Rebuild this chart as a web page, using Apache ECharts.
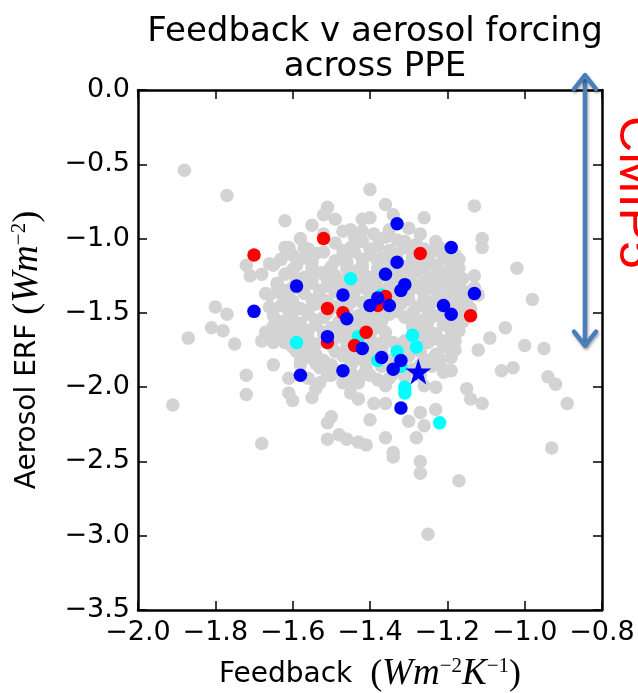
<!DOCTYPE html>
<html>
<head>
<meta charset="utf-8">
<script src="https://cdn.jsdelivr.net/npm/echarts@6/dist/echarts.min.js"></script>
<style>html,body{margin:0;padding:0;background:#fff}#c{width:638px;height:693px}</style>
</head>
<body>
<div id="c"></div>
<script>
// ---- data ----
const xTicks = [-2.0, -0.8, 0.2];   // min, max, interval (Feedback)
const yTicks = [-3.5, 0.0, 0.5];    // min, max, interval (Aerosol ERF)

const ppeGray = [
[-1.88,-0.54],[-1.77,-0.71],[-1.40,-0.67],[-1.36,-0.77],[-1.13,-0.78],[-1.51,-0.79],[-1.52,-0.84],[-1.49,-0.87],
[-1.62,-0.88],[-1.42,-0.87],[-1.40,-0.86],[-1.34,-0.84],[-1.26,-0.86],[-1.55,-0.91],[-1.30,-0.93],[-1.47,-0.95],
[-1.45,-0.94],[-1.42,-0.95],[-1.39,-0.97],[-1.35,-0.94],[-1.11,-1.00],[-1.11,-1.06],[-1.58,-1.00],[-1.57,-1.06],
[-1.62,-1.06],[-1.61,-1.06],[-1.54,-1.10],[-1.57,-1.13],[-1.33,-1.01],[-1.31,-1.02],[-1.23,-1.02],[-1.28,-1.04],
[-1.18,-1.11],[-1.17,-1.20],[-1.02,-1.20],[-1.72,-1.18],[-1.65,-1.18],[-1.71,-1.25],[-1.68,-1.24],[-1.13,-1.25],
[-0.98,-1.41],[-1.80,-1.46],[-1.77,-1.51],[-1.81,-1.60],[-1.78,-1.62],[-1.87,-1.67],[-1.75,-1.71],[-1.68,-1.69],
[-1.65,-1.70],[-1.65,-1.85],[-1.72,-1.92],[-1.72,-2.05],[-1.91,-2.12],[-1.61,-1.94],[-1.61,-2.04],[-1.60,-2.09],
[-1.55,-2.07],[-1.54,-2.01],[-1.51,-2.24],[-1.50,-2.20],[-1.40,-2.22],[-1.39,-2.11],[-1.36,-2.11],[-1.43,-2.08],
[-1.45,-2.04],[-1.27,-2.17],[-1.23,-2.15],[-1.30,-2.23],[-1.26,-2.26],[-1.28,-2.34],[-1.36,-2.34],[-1.51,-2.35],
[-1.48,-2.32],[-1.46,-2.35],[-1.43,-2.37],[-1.41,-2.39],[-1.34,-2.44],[-1.34,-2.47],[-1.27,-2.50],[-1.27,-2.58],
[-1.17,-2.63],[-1.68,-2.38],[-0.93,-2.41],[-1.25,-2.99],[-1.15,-2.01],[-1.14,-2.08],[-1.11,-2.11],[-1.06,-1.89],
[-1.03,-1.87],[-1.09,-1.67],[-1.05,-1.60],[-1.00,-1.72],[-0.95,-1.74],[-1.12,-1.75],[-0.94,-1.93],[-0.92,-1.98],
[-0.89,-2.11],[-1.20,-1.89],[-1.19,-1.89],[-1.23,-2.00],[-1.26,-1.99],[-1.18,-1.75],[-1.18,-1.69],[-1.24,-1.68],
[-1.22,-1.81],[-1.36,-1.99],[-1.35,-1.94],[-1.40,-1.92],[-1.43,-1.97],[-1.44,-1.97],[-1.47,-1.97],[-1.50,-1.92],
[-1.53,-1.97],[-1.58,-1.83],[-1.59,-1.76],[-1.57,-1.71],[-1.61,-1.64],[-1.60,-1.55],[-1.62,-1.44],[-1.63,-1.37],
[-1.64,-1.30],[-1.67,-1.37],[-1.66,-1.46],[-1.65,-1.59],[-1.67,-1.63],[-1.13,-1.33],[-1.14,-1.47],[-1.12,-1.38],
[-1.49,-1.03],[-1.45,-1.06],[-1.42,-1.02],[-1.38,-1.05],[-1.35,-1.08],[-1.26,-1.07],
[-1.60,-1.11],[-1.52,-1.09],[-1.47,-1.12],[-1.44,-1.09],[-1.40,-1.11],[-1.37,-1.13],[-1.33,-1.10],[-1.29,-1.12],[-1.24,-1.09],[-1.21,-1.13],
[-1.66,-1.17],[-1.59,-1.18],[-1.55,-1.16],[-1.50,-1.19],[-1.46,-1.16],[-1.42,-1.18],[-1.38,-1.15],[-1.31,-1.19],[-1.27,-1.16],[-1.23,-1.18],[-1.19,-1.16],
[-1.62,-1.24],[-1.57,-1.26],[-1.53,-1.23],[-1.49,-1.25],[-1.44,-1.22],[-1.40,-1.26],[-1.36,-1.23],[-1.32,-1.25],[-1.28,-1.22],[-1.24,-1.26],[-1.20,-1.23],[-1.16,-1.27],
[-1.64,-1.31],[-1.60,-1.33],[-1.55,-1.30],[-1.51,-1.32],[-1.47,-1.29],[-1.43,-1.33],[-1.39,-1.30],[-1.35,-1.32],[-1.29,-1.30],[-1.25,-1.33],[-1.21,-1.29],[-1.17,-1.32],
[-1.66,-1.38],[-1.61,-1.40],[-1.57,-1.37],[-1.53,-1.39],[-1.49,-1.36],[-1.44,-1.40],[-1.40,-1.37],[-1.34,-1.39],[-1.30,-1.36],[-1.26,-1.40],[-1.22,-1.37],[-1.18,-1.39],[-1.15,-1.42],
[-1.63,-1.45],[-1.58,-1.47],[-1.54,-1.44],[-1.49,-1.46],[-1.45,-1.43],[-1.37,-1.47],[-1.32,-1.44],[-1.28,-1.46],[-1.24,-1.43],[-1.16,-1.46],
[-1.65,-1.52],[-1.60,-1.54],[-1.56,-1.51],[-1.52,-1.53],[-1.48,-1.56],[-1.43,-1.52],[-1.39,-1.54],[-1.35,-1.51],[-1.31,-1.53],[-1.27,-1.55],[-1.23,-1.52],[-1.18,-1.54],
[-1.62,-1.59],[-1.58,-1.61],[-1.54,-1.58],[-1.50,-1.60],[-1.46,-1.62],[-1.42,-1.58],[-1.38,-1.60],[-1.29,-1.59],[-1.25,-1.61],[-1.21,-1.58],[-1.17,-1.62],
[-1.64,-1.66],[-1.56,-1.67],[-1.52,-1.64],[-1.48,-1.66],[-1.44,-1.68],[-1.40,-1.65],[-1.36,-1.67],[-1.31,-1.69],[-1.27,-1.66],[-1.22,-1.68],[-1.19,-1.65],
[-1.60,-1.73],[-1.55,-1.75],[-1.50,-1.72],[-1.46,-1.74],[-1.41,-1.71],[-1.37,-1.74],[-1.33,-1.72],[-1.29,-1.75],[-1.21,-1.73],
[-1.56,-1.80],[-1.52,-1.82],[-1.47,-1.79],[-1.43,-1.81],[-1.39,-1.78],[-1.35,-1.82],[-1.30,-1.79],[-1.26,-1.81],[-1.19,-1.80],
[-1.53,-1.87],[-1.49,-1.89],[-1.45,-1.86],[-1.41,-1.88],[-1.36,-1.85],[-1.29,-1.88],[-1.24,-1.86],[-1.21,-1.90],
[-1.56,-1.94],[-1.44,-1.93],[-1.38,-1.95],[-1.31,-1.93],
[-1.52,-0.97],[-1.44,-0.99],[-1.36,-0.99],[-1.27,-0.97],
[-1.56,-1.07],[-1.47,-1.08],[-1.40,-1.07],[-1.31,-1.06],[-1.22,-1.06],
[-1.63,-1.14],[-1.56,-1.13],[-1.49,-1.15],[-1.42,-1.14],[-1.35,-1.15],[-1.29,-1.14],[-1.25,-1.15],[-1.17,-1.14],
[-1.60,-1.21],[-1.55,-1.20],[-1.51,-1.22],[-1.46,-1.20],[-1.42,-1.21],[-1.38,-1.20],[-1.34,-1.22],[-1.30,-1.21],[-1.26,-1.20],[-1.22,-1.21],[-1.18,-1.22],
[-1.59,-1.28],[-1.55,-1.27],[-1.51,-1.28],[-1.46,-1.27],[-1.42,-1.29],[-1.38,-1.27],[-1.34,-1.28],[-1.30,-1.27],[-1.26,-1.29],[-1.22,-1.27],[-1.18,-1.28],
[-1.62,-1.35],[-1.58,-1.34],[-1.53,-1.35],[-1.49,-1.34],[-1.45,-1.35],[-1.41,-1.34],[-1.37,-1.35],[-1.27,-1.34],[-1.23,-1.35],[-1.19,-1.34],[-1.15,-1.36],
[-1.60,-1.42],[-1.55,-1.41],[-1.51,-1.42],[-1.47,-1.41],[-1.42,-1.43],[-1.34,-1.42],[-1.30,-1.41],[-1.26,-1.43],[-1.21,-1.41],[-1.18,-1.43],
[-1.61,-1.49],[-1.56,-1.48],[-1.51,-1.50],[-1.46,-1.49],[-1.41,-1.48],[-1.37,-1.50],[-1.33,-1.49],[-1.29,-1.50],[-1.25,-1.48],[-1.21,-1.49],[-1.17,-1.50],
[-1.63,-1.56],[-1.58,-1.57],[-1.54,-1.55],[-1.45,-1.56],[-1.41,-1.57],[-1.37,-1.56],[-1.29,-1.57],[-1.25,-1.56],[-1.20,-1.57],[-1.16,-1.56],
[-1.60,-1.63],[-1.56,-1.62],[-1.52,-1.63],[-1.48,-1.62],[-1.44,-1.64],[-1.40,-1.62],[-1.36,-1.63],[-1.27,-1.63],[-1.23,-1.64],[-1.19,-1.62],
[-1.62,-1.70],[-1.58,-1.69],[-1.54,-1.71],[-1.50,-1.69],[-1.46,-1.70],[-1.42,-1.69],[-1.38,-1.71],[-1.34,-1.70],[-1.29,-1.71],[-1.25,-1.70],[-1.20,-1.71],
[-1.58,-1.77],[-1.54,-1.78],[-1.49,-1.76],[-1.45,-1.77],[-1.41,-1.76],[-1.37,-1.78],[-1.31,-1.77],[-1.27,-1.76],[-1.23,-1.78],
[-1.58,-1.85],[-1.54,-1.84],[-1.50,-1.85],[-1.45,-1.83],[-1.41,-1.84],[-1.37,-1.86],[-1.32,-1.84],[-1.27,-1.85],[-1.22,-1.84],
[-1.51,-1.92],[-1.47,-1.91],[-1.42,-1.92],[-1.34,-1.91],[-1.27,-1.92]
];
const ppeCyan = [
[-1.45,-1.27],[-1.37,-1.38],[-1.59,-1.70],[-1.43,-1.66],[-1.29,-1.65],[-1.28,-1.73],
[-1.33,-1.76],[-1.38,-1.82],[-1.32,-1.86],[-1.31,-2.00],[-1.31,-2.04],[-1.22,-2.24]
];
const ppeRed = [
[-1.52,-1.00],[-1.70,-1.11],[-1.27,-1.10],[-1.51,-1.47],[-1.47,-1.50],[-1.36,-1.39],
[-1.38,-1.45],[-1.14,-1.52],[-1.41,-1.63],[-1.51,-1.70],[-1.44,-1.72]
];
const ppeBlue = [
[-1.33,-0.90],[-1.19,-1.06],[-1.33,-1.16],[-1.36,-1.24],[-1.31,-1.31],[-1.32,-1.35],
[-1.59,-1.32],[-1.47,-1.38],[-1.13,-1.37],[-1.38,-1.40],[-1.40,-1.45],[-1.35,-1.45],
[-1.21,-1.45],[-1.19,-1.51],[-1.70,-1.49],[-1.46,-1.54],[-1.51,-1.66],[-1.42,-1.74],
[-1.37,-1.80],[-1.32,-1.82],[-1.34,-1.88],[-1.47,-1.89],[-1.58,-1.92],[-1.32,-2.14]
];
const refStar = [[-1.275,-1.895]];
const cmip5Arrow = [[-0.844, -1.72, 0.10]];   // x, lower tip, upper tip

// ---- chart ----
const FONT = 'DejaVu Sans';
const fmt = v => (v < 0 ? '\u2212' + Math.abs(v).toFixed(1) : v.toFixed(1));
const starPath = 'path://M50,0 L61.2,34.5 L97.6,34.5 L68.2,55.9 L79.4,90.5 L50,69.1 L20.6,90.5 L31.8,55.9 L2.4,34.5 L38.8,34.5 Z';

const mathRich = {
  n: { fontFamily: FONT, fontSize: 28, color: '#000' },
  p: { fontFamily: 'Liberation Serif', fontSize: 36, color: '#000' },
  i: { fontFamily: 'Liberation Serif', fontStyle: 'italic', fontSize: 37, color: '#000' },
  s: { fontFamily: 'Liberation Serif', fontSize: 21, color: '#000', verticalAlign: 'top' }
};

const axisCommon = {
  splitLine: { show: false },
  axisLine: { show: true, onZero: false, lineStyle: { color: '#000', width: 2.5 } },
  axisTick: { show: true, inside: true, length: 9, lineStyle: { color: '#000', width: 1.5 } }
};

const chart = echarts.init(document.getElementById('c'), null, { renderer: 'canvas' });
chart.setOption({
  animation: false,
  backgroundColor: '#fff',
  title: {
    text: 'Feedback v aerosol forcing\nacross PPE',
    left: 370, top: 10, textAlign: 'center',
    textStyle: { fontFamily: FONT, fontSize: 34, fontWeight: 'normal', color: '#000', lineHeight: 35 }
  },
  grid: { left: 138, right: 36, top: 90, bottom: 83, containLabel: false, outerBoundsMode: 'none' },
  xAxis: [
    Object.assign({}, axisCommon, {
      type: 'value', position: 'bottom', min: xTicks[0], max: xTicks[1], interval: xTicks[2],
      axisLabel: { formatter: fmt, fontFamily: FONT, fontSize: 27, color: '#000', margin: 9 },
      name: '{n|Feedback\u00a0\u00a0}{p|(}{i|Wm}{s|\u22122}{i|K}{s|\u22121}{p|)}',
      nameLocation: 'middle', nameGap: 46,
      nameTextStyle: { rich: mathRich }
    }),
    Object.assign({}, axisCommon, {
      type: 'value', position: 'top', min: xTicks[0], max: xTicks[1], interval: xTicks[2],
      axisLabel: { show: false }
    })
  ],
  yAxis: [
    Object.assign({}, axisCommon, {
      type: 'value', position: 'left', min: yTicks[0], max: yTicks[1], interval: yTicks[2],
      axisLabel: { formatter: fmt, fontFamily: FONT, fontSize: 27, color: '#000', margin: 8 },
      name: '{n|Aerosol ERF\u00a0}{p|(}{i|Wm}{s|\u22122}{p|)}',
      nameLocation: 'middle', nameGap: 92, nameRotate: 90,
      nameTextStyle: { rich: mathRich }
    }),
    Object.assign({}, axisCommon, {
      type: 'value', position: 'right', min: yTicks[0], max: yTicks[1], interval: yTicks[2],
      axisLabel: { show: false }
    })
  ],
  series: [
    { type: 'scatter', data: ppeGray, symbolSize: 13.5, itemStyle: { color: '#d3d3d3', opacity: 1 }, silent: true },
    { type: 'scatter', data: ppeCyan, symbolSize: 13.5, itemStyle: { color: '#00ffff', opacity: 1 }, silent: true },
    { type: 'scatter', data: ppeRed, symbolSize: 13.5, itemStyle: { color: '#ff0000', opacity: 1 }, silent: true },
    { type: 'scatter', data: ppeBlue, symbolSize: 13.5, itemStyle: { color: '#0000ff', opacity: 1 }, silent: true },
    { type: 'scatter', data: refStar, symbol: starPath, symbolSize: 26, itemStyle: { color: '#0000ff', opacity: 1 }, silent: true },
    {
      type: 'custom', data: cmip5Arrow, clip: false, silent: true,
      encode: { x: 0, y: [1, 2] },
      renderItem: function (params, api) {
        const bot = api.coord([api.value(0), api.value(1)]);
        const top = api.coord([api.value(0), api.value(2)]);
        const st = {
          stroke: '#4a7ebb', lineWidth: 4.5, fill: null, lineCap: 'round', lineJoin: 'round',
          shadowBlur: 3, shadowColor: 'rgba(0,0,0,0.35)', shadowOffsetX: 1, shadowOffsetY: 2
        };
        const hw = 11, hh = 14;
        return {
          type: 'group',
          children: [
            { type: 'line', shape: { x1: top[0], y1: top[1] + 2, x2: bot[0], y2: bot[1] - 2 }, style: st },
            { type: 'polyline', shape: { points: [[top[0] - hw, top[1] + hh], [top[0], top[1]], [top[0] + hw, top[1] + hh]] }, style: st },
            { type: 'polyline', shape: { points: [[bot[0] - hw, bot[1] - hh], [bot[0], bot[1]], [bot[0] + hw, bot[1] - hh]] }, style: st }
          ]
        };
      }
    }
  ],
  graphic: [
    {
      type: 'text', x: 634, y: 116, rotation: -Math.PI / 2,
      style: {
        text: 'CMIP5', fill: '#ff0000', font: '50px "Liberation Sans", Arial, sans-serif',
        textAlign: 'left', textVerticalAlign: 'middle'
      }
    }
  ]
});
</script>
</body>
</html>
